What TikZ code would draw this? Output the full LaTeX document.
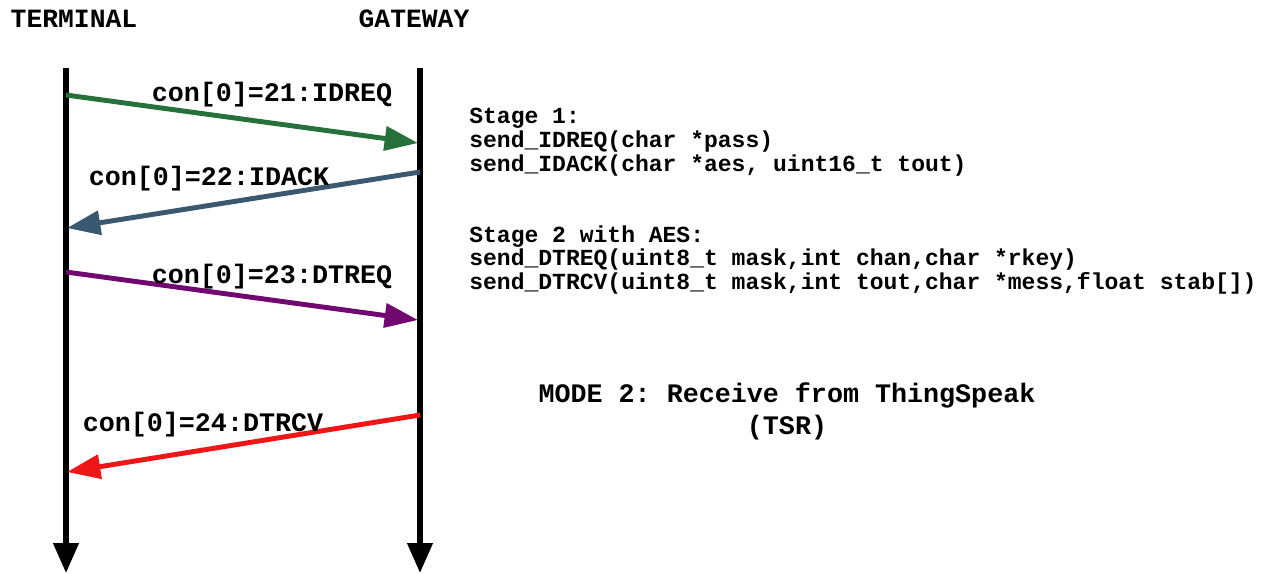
\documentclass[tikz,border=0pt]{standalone}
\usepackage{fontspec}
\setmonofont{Liberation Mono}
\usetikzlibrary{arrows.meta}
\definecolor{reqgreen}{RGB}{38,112,58}
\definecolor{ackblue}{RGB}{58,88,112}
\definecolor{dtpurple}{RGB}{112,8,112}
\definecolor{rcvred}{RGB}{238,22,22}
\tikzset{
    lifeline/.style={line width=3pt, -{Triangle[length=17pt, width=14pt]}},
    msgarrow/.style={line width=2.8pt, -{Triangle[length=19pt, width=13.5pt]}},
    title/.style={font=\ttfamily\bfseries\fontsize{15}{18}\selectfont, inner sep=0pt, anchor=base},
    msg/.style={font=\ttfamily\bfseries\fontsize{15.2}{18}\selectfont, inner sep=0pt, anchor=base},
    code/.style={font=\ttfamily\bfseries\fontsize{13.1}{13.5}\selectfont, inner sep=0pt, align=left, anchor=north west}
}

\begin{document}
\begin{tikzpicture}[x=0.02cm, y=-0.02cm]
    \useasboundingbox (0, 0) rectangle (1265, 574);
    % lifelines
    \node[title] (terminal) at (74, 28) {TERMINAL};
    \node[title] (gateway) at (414, 28) {GATEWAY};
    \coordinate (Ttop) at (66, 68);
    \coordinate (Tbot) at (66, 573);
    \coordinate (Gtop) at (420, 68);
    \coordinate (Gbot) at (420, 573);
    \draw[lifeline] (Ttop) -- (Tbot);
    \draw[lifeline] (Gtop) -- (Gbot);
    % messages
    \coordinate (t1) at (66, 95);
    \coordinate (g1) at (418, 143);
    \coordinate (g2) at (420, 172);
    \coordinate (t2) at (67, 228);
    \coordinate (t3) at (66, 272);
    \coordinate (g3) at (418, 320);
    \coordinate (g4) at (420, 415);
    \coordinate (t4) at (67, 472);
    \draw[msgarrow, reqgreen] (t1) -- (g1);
    \draw[msgarrow, ackblue] (g2) -- (t2);
    \draw[msgarrow, dtpurple] (t3) -- (g3);
    \draw[msgarrow, rcvred] (g4) -- (t4);
    \node[msg] (idreq) at (272, 102) {con[0]=21:IDREQ};
    \node[msg] (idack) at (209, 186) {con[0]=22:IDACK};
    \node[msg] (dtreq) at (272, 284) {con[0]=23:DTREQ};
    \node[msg] (dtrcv) at (203, 431) {con[0]=24:DTRCV};
    % stages
    \node[code] (stage1) at (469, 108) {Stage 1:\\send\_IDREQ(char *pass)\\send\_IDACK(char *aes, uint16\_t tout)};
    \node[code] (stage2) at (469, 225) {Stage 2 with AES:\\send\_DTREQ(uint8\_t mask,int chan,char *rkey)\\send\_DTRCV(uint8\_t mask,int tout,char *mess,float stab[])};
    \node[msg, align=center, font=\ttfamily\bfseries\fontsize{15.2}{18.2}\selectfont, anchor=north] (mode) at (787, 382) {MODE 2: Receive from ThingSpeak\\(TSR)};
\end{tikzpicture}
\end{document}
